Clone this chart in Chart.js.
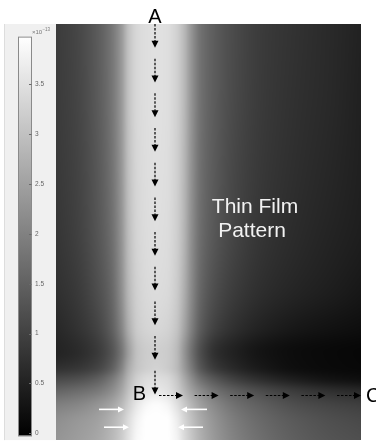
<!DOCTYPE html>
<html>
<head>
<meta charset="utf-8">
<script src="https://cdn.jsdelivr.net/npm/chart.js@4.4.1/dist/chart.umd.min.js"></script>
<style>
  html, body { margin: 0; padding: 0; background: #fff; }
  canvas { display: block; }
</style>
</head>
<body>
<canvas id="c" width="376" height="444"></canvas>
<script>
// Sample positions of the intensity map (horizontal and vertical position, px units)
const xNodes = [0, 20, 40, 55, 65, 73, 82, 92, 100, 110, 120, 128, 136, 145, 160, 180, 205, 240, 275, 305];
const yNodes = [0, 66, 136, 206, 266, 306, 331, 346, 358, 371, 386, 401, 420];

// Intensity at each node, in units of 1e-13 (one row per yNode, one column per xNode)
const intensity = [
  [0.90, 1.06, 1.37, 1.79, 2.34, 3.04, 3.38, 3.47, 3.50, 3.47, 3.27, 2.88, 2.26, 1.74, 1.40, 1.12, 0.90, 0.75, 0.62, 0.50],
  [0.89, 1.04, 1.36, 1.78, 2.34, 3.04, 3.38, 3.47, 3.50, 3.47, 3.27, 2.88, 2.26, 1.74, 1.39, 1.11, 0.89, 0.73, 0.61, 0.48],
  [0.86, 1.01, 1.32, 1.74, 2.31, 3.01, 3.36, 3.46, 3.49, 3.46, 3.26, 2.85, 2.23, 1.71, 1.36, 1.07, 0.86, 0.70, 0.58, 0.47],
  [0.81, 0.97, 1.28, 1.68, 2.26, 2.96, 3.33, 3.44, 3.47, 3.44, 3.24, 2.82, 2.18, 1.67, 1.31, 1.03, 0.81, 0.65, 0.53, 0.44],
  [0.72, 0.87, 1.17, 1.56, 2.18, 2.88, 3.27, 3.40, 3.43, 3.40, 3.19, 2.73, 2.10, 1.56, 1.17, 0.90, 0.70, 0.55, 0.44, 0.34],
  [0.59, 0.75, 1.01, 1.43, 2.02, 2.73, 3.19, 3.32, 3.35, 3.30, 3.08, 2.57, 1.95, 1.40, 0.97, 0.70, 0.50, 0.34, 0.25, 0.19],
  [0.52, 0.63, 0.86, 1.25, 1.79, 2.49, 3.04, 3.19, 3.22, 3.18, 2.93, 2.34, 1.71, 1.17, 0.70, 0.47, 0.28, 0.16, 0.11, 0.08],
  [0.70, 0.79, 1.00, 1.40, 1.97, 2.65, 3.07, 3.22, 3.27, 3.19, 2.93, 2.41, 1.84, 1.30, 0.84, 0.57, 0.35, 0.18, 0.12, 0.09],
  [1.10, 1.19, 1.42, 1.82, 2.30, 2.86, 3.26, 3.43, 3.46, 3.40, 3.12, 2.65, 2.16, 1.70, 1.28, 0.93, 0.66, 0.41, 0.26, 0.19],
  [1.56, 1.68, 1.87, 2.18, 2.57, 3.04, 3.40, 3.58, 3.63, 3.55, 3.27, 2.88, 2.49, 2.15, 1.74, 1.43, 1.17, 0.90, 0.72, 0.62],
  [1.99, 2.10, 2.31, 2.57, 2.88, 3.27, 3.66, 3.89, 3.94, 3.86, 3.55, 3.19, 2.83, 2.49, 2.10, 1.74, 1.48, 1.21, 1.06, 0.97],
  [2.21, 2.34, 2.49, 2.77, 3.08, 3.46, 3.82, 3.97, 3.97, 3.97, 3.74, 3.35, 2.99, 2.65, 2.26, 1.90, 1.62, 1.37, 1.21, 1.12],
  [2.31, 2.43, 2.59, 2.85, 3.16, 3.54, 3.89, 3.97, 3.97, 3.97, 3.82, 3.43, 3.07, 2.73, 2.34, 1.99, 1.71, 1.45, 1.29, 1.21]
];

// Colour bar
const colorTicks = [0, 0.5, 1, 1.5, 2, 2.5, 3, 3.5];
const colorLimits = [-0.03, 3.98];
const colorExponent = '\u221213';

// Scan path A -> B -> C and annotation text
const pathA = { x: 99, y: 0 };
const pathB = { x: 99, y: 374 };
const pathC = { x: 305, y: 375 };
const verticalStep = 35;
const horizontalStep = 35.6;
const arrowLength = 24;
const annotation = ['Thin Film', 'Pattern'];

// White arrows pointing at the bright spot: [tailX, tipX, y]
const spotArrows = [[43, 68, 389], [48, 73, 407], [151, 125, 389], [147, 122, 407]];

const FONT = '"Liberation Sans", Arial, sans-serif';

// --- shading helpers: monotone cubic (PCHIP) between the sampled nodes ---
function locate(nodes, v) {
  const n = nodes.length;
  if (v <= nodes[0]) return [0, 0];
  if (v >= nodes[n - 1]) return [n - 2, 1];
  let i = 0;
  while (i < n - 2 && v > nodes[i + 1]) i++;
  return [i, (v - nodes[i]) / (nodes[i + 1] - nodes[i])];
}

function pchipSlopes(xs, ys) {
  const n = xs.length, d = [], m = new Array(n);
  for (let k = 0; k < n - 1; k++) d.push((ys[k + 1] - ys[k]) / (xs[k + 1] - xs[k]));
  m[0] = d[0];
  m[n - 1] = d[n - 2];
  for (let k = 1; k < n - 1; k++) {
    if (d[k - 1] * d[k] <= 0) { m[k] = 0; continue; }
    const h0 = xs[k] - xs[k - 1], h1 = xs[k + 1] - xs[k];
    const w1 = 2 * h1 + h0, w2 = h1 + 2 * h0;
    m[k] = (w1 + w2) / (w1 / d[k - 1] + w2 / d[k]);
  }
  return m;
}

function pchipEval(xs, ys, m, k, t) {
  const h = xs[k + 1] - xs[k];
  const t2 = t * t, t3 = t2 * t;
  return (2 * t3 - 3 * t2 + 1) * ys[k] + (t3 - 2 * t2 + t) * h * m[k] +
         (-2 * t3 + 3 * t2) * ys[k + 1] + (t3 - t2) * h * m[k + 1];
}

function grayOf(v) {
  let t = (v - colorLimits[0]) / (colorLimits[1] - colorLimits[0]);
  t = Math.max(0, Math.min(1, t));
  return Math.round(t * 255);
}

function drawArrow(ctx, x1, y1, x2, y2, o) {
  const dx = x2 - x1, dy = y2 - y1;
  const len = Math.hypot(dx, dy);
  const ux = dx / len, uy = dy / len;
  const bx = x2 - ux * o.head, by = y2 - uy * o.head;
  ctx.save();
  ctx.strokeStyle = o.color;
  ctx.fillStyle = o.color;
  ctx.lineWidth = o.width;
  ctx.setLineDash(o.dash || []);
  ctx.beginPath();
  ctx.moveTo(x1, y1);
  ctx.lineTo(bx + ux * 0.5, by + uy * 0.5);
  ctx.stroke();
  ctx.setLineDash([]);
  ctx.beginPath();
  ctx.moveTo(x2, y2);
  ctx.lineTo(bx - uy * o.half, by + ux * o.half);
  ctx.lineTo(bx + uy * o.half, by - ux * o.half);
  ctx.closePath();
  ctx.fill();
  ctx.restore();
}

const heatmapPlugin = {
  id: 'heatmap',
  beforeDraw(chart) {
    const ctx = chart.ctx;
    const a = chart.chartArea;
    ctx.save();
    ctx.fillStyle = '#ffffff';
    ctx.fillRect(0, 0, chart.width, chart.height);
    // side panel holding the colour bar
    ctx.fillStyle = '#f0f0f0';
    ctx.fillRect(4, a.top, a.left - 4, a.bottom - a.top);
    ctx.fillStyle = '#dddddd';
    ctx.fillRect(4, a.top, 1, a.bottom - a.top);
    ctx.restore();
  },
  beforeDatasetsDraw(chart) {
    const ctx = chart.ctx;
    const a = chart.chartArea;
    const xs = chart.scales.x, ys = chart.scales.y;
    const w = Math.round(a.right - a.left), h = Math.round(a.bottom - a.top);
    const off = document.createElement('canvas');
    off.width = w; off.height = h;
    const octx = off.getContext('2d');
    const img = octx.createImageData(w, h);

    // interpolate each sampled row across x, then each pixel column across y
    const rowSlopes = intensity.map(row => pchipSlopes(xNodes, row));
    const atX = intensity.map(() => new Float64Array(w));
    for (let i = 0; i < w; i++) {
      const [c, tx] = locate(xNodes, xs.getValueForPixel(a.left + i + 0.5));
      intensity.forEach((row, r) => { atX[r][i] = pchipEval(xNodes, row, rowSlopes[r], c, tx); });
    }
    const rowIdx = [];
    for (let j = 0; j < h; j++) rowIdx.push(locate(yNodes, ys.getValueForPixel(a.top + j + 0.5)));
    for (let i = 0; i < w; i++) {
      const col = atX.map(arr => arr[i]);
      const m = pchipSlopes(yNodes, col);
      for (let j = 0; j < h; j++) {
        const [r, ty] = rowIdx[j];
        const g = grayOf(pchipEval(yNodes, col, m, r, ty));
        const k = (j * w + i) * 4;
        img.data[k] = g; img.data[k + 1] = g; img.data[k + 2] = g; img.data[k + 3] = 255;
      }
    }
    octx.putImageData(img, 0, 0);
    ctx.drawImage(off, a.left, a.top, w, h);
  },
  afterDraw(chart) {
    const ctx = chart.ctx;
    const xs = chart.scales.x, ys = chart.scales.y, cs = chart.scales.cb;
    const px = v => xs.getPixelForValue(v);
    const py = v => ys.getPixelForValue(v);

    // colour bar
    const yLo = cs.getPixelForValue(colorLimits[0]);
    const yHi = cs.getPixelForValue(colorLimits[1]);
    const barL = 18, barR = 32;
    const grad = ctx.createLinearGradient(0, yLo, 0, yHi);
    grad.addColorStop(0, '#000000');
    grad.addColorStop(1, '#ffffff');
    ctx.save();
    ctx.fillStyle = grad;
    ctx.fillRect(barL, yHi, barR - barL, yLo - yHi);
    ctx.strokeStyle = '#8a8a8a';
    ctx.lineWidth = 1;
    ctx.strokeRect(barL + 0.5, yHi + 0.5, barR - barL - 1, yLo - yHi - 1);
    ctx.strokeStyle = '#6a6a6a';
    colorTicks.forEach(t => {
      const y = Math.round(cs.getPixelForValue(t)) + 0.5;
      ctx.beginPath();
      ctx.moveTo(barR - 3, y);
      ctx.lineTo(barR - 0.5, y);
      ctx.stroke();
    });
    // exponent label
    ctx.fillStyle = '#777777';
    ctx.textBaseline = 'alphabetic';
    ctx.textAlign = 'left';
    ctx.font = '6px ' + FONT;
    ctx.fillText('\u00d710', 32, 34);
    const wx = ctx.measureText('\u00d710').width;
    ctx.font = '4.5px ' + FONT;
    ctx.fillText(colorExponent, 32 + wx + 0.3, 30.5);
    ctx.restore();

    // scan path arrows A -> B
    const black = { color: '#000000', width: 1.2, dash: [2.5, 1.5], head: 7, half: 3.5 };
    for (let tip = pathB.y; tip - arrowLength >= pathA.y - 0.5; tip -= verticalStep) {
      drawArrow(ctx, px(pathA.x), py(tip - arrowLength), px(pathA.x), py(tip), black);
    }
    // B -> C
    for (let tip = pathC.x; tip - arrowLength >= pathB.x; tip -= horizontalStep) {
      drawArrow(ctx, px(tip - arrowLength), py(pathC.y), px(tip), py(pathC.y), black);
    }
    // arrows converging on the bright spot
    const white = { color: '#ffffff', width: 1.6, head: 6, half: 3 };
    spotArrows.forEach(([t, h, y]) => drawArrow(ctx, px(t), py(y), px(h), py(y), white));

    // path labels
    ctx.save();
    ctx.fillStyle = '#000000';
    ctx.font = '20px ' + FONT;
    ctx.textBaseline = 'alphabetic';
    ctx.textAlign = 'center';
    ctx.fillText('A', px(pathA.x), py(pathA.y) - 1);
    ctx.textAlign = 'right';
    ctx.fillText('B', px(pathB.x) - 9, py(pathB.y) + 5);
    ctx.textAlign = 'left';
    ctx.fillText('C', px(pathC.x) + 5, py(pathC.y) + 6);
    // region annotation
    ctx.fillStyle = '#f2f2f2';
    ctx.textAlign = 'center';
    ctx.font = '21px ' + FONT;
    ctx.fillText(annotation[0], px(199), py(191));
    ctx.fillText(annotation[1], px(196), py(215));
    ctx.restore();
  }
};

const nodes = [];
yNodes.forEach((y, r) => xNodes.forEach((x, c) => nodes.push({ x, y, v: intensity[r][c] })));

new Chart(document.getElementById('c'), {
  type: 'scatter',
  data: {
    datasets: [{ label: 'Intensity (\u00d710\u207b\u00b9\u00b3)', data: nodes, pointRadius: 0, pointHoverRadius: 0 }]
  },
  options: {
    responsive: false,
    animation: false,
    events: [],
    layout: { padding: { left: 35, right: 15, top: 24, bottom: 0 } },
    plugins: { legend: { display: false }, tooltip: { enabled: false } },
    scales: {
      x: { type: 'linear', min: 0, max: 305, display: false },
      y: { type: 'linear', min: 0, max: 420, reverse: true, display: false },
      cb: {
        type: 'linear',
        axis: 'y',
        position: 'left',
        min: -0.0696,
        max: 4.1066,
        grid: { display: false, drawTicks: false },
        border: { display: false },
        afterBuildTicks: s => { s.ticks = colorTicks.map(v => ({ value: v })); },
        afterFit: s => { s.width = 21; },
        ticks: {
          crossAlign: 'far',
          padding: 0,
          color: '#666666',
          font: { size: 6.5, family: FONT },
          callback: v => String(v)
        }
      }
    }
  },
  plugins: [heatmapPlugin]
});
</script>
</body>
</html>
